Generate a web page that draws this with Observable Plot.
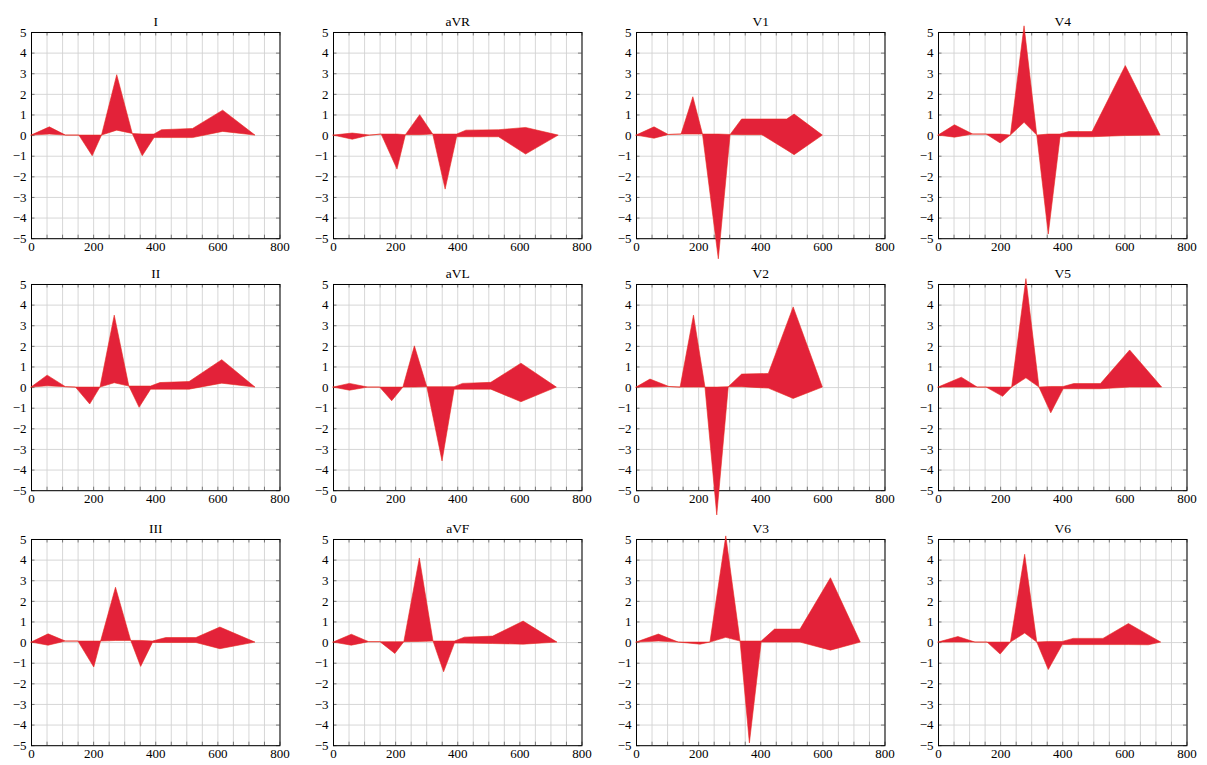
<!DOCTYPE html>
<html><head><meta charset="utf-8">
<script src="https://cdn.jsdelivr.net/npm/d3@7"></script>
<script src="https://cdn.jsdelivr.net/npm/@observablehq/plot@0.6"></script>
<style>
html,body{margin:0;padding:0;background:#fff;}
body{width:1207px;height:765px;position:relative;overflow:hidden;}
#chart{position:absolute;left:0;top:0;width:1207px;height:765px;}
#chart svg{position:absolute;overflow:visible;background:transparent !important;max-width:none !important;}
</style></head><body><div id="chart"></div>
<script>
// Lead names in grid order (row-major)
const leadNames = ["I", "aVR", "V1", "V4", "II", "aVL", "V2", "V5", "III", "aVF", "V3", "V6"];

// Per-lead x (ms), upper envelope, lower envelope
const xI   = [0, 59, 111, 154, 197, 227, 276, 326, 358, 396, 420, 520, 617, 721];
const hiI  = [0, 0.40, 0, 0, 0, 0, 2.93, 0.08, 0.05, 0.05, 0.26, 0.32, 1.21, 0];
const loI  = [0, 0.05, 0, 0, -1.00, 0, 0.24, 0.08, -1.00, -0.12, -0.12, -0.12, 0.18, 0];

const xaVR  = [0, 62, 118, 155, 206, 233, 279, 321, 361, 398, 428, 533, 620, 725];
const hiaVR = [0, 0.10, 0, 0.05, 0.05, 0.02, 0.99, 0.05, 0.05, 0.05, 0.24, 0.26, 0.37, 0];
const loaVR = [0, -0.20, 0, 0.05, -1.65, 0.02, 0.02, 0.05, -2.62, -0.08, -0.08, -0.08, -0.92, 0];

const xV1  = [0, 58, 104, 145, 183, 214, 265, 303, 340, 405, 485, 509, 600];
const hiV1 = [0, 0.40, 0.03, 0.05, 1.86, 0.05, 0.05, 0.03, 0.78, 0.78, 0.78, 1.02, 0];
const loV1 = [0, -0.15, 0.03, 0.05, 0.05, 0.05, -6.00, 0.03, 0.02, 0.02, -0.72, -0.95, 0];

const xV4  = [0, 53, 112, 155, 200, 233, 277, 318, 355, 393, 421, 496, 603, 715];
const hiV4 = [0, 0.50, 0.05, 0.05, 0.05, 0, 5.30, 0, 0.05, 0.05, 0.17, 0.17, 3.37, 0];
const loV4 = [0, -0.10, 0.05, 0.05, -0.38, 0, 0.62, 0, -4.80, -0.08, -0.08, -0.08, -0.02, 0];

const xII  = [0, 52, 111, 143, 189, 222, 268, 315, 348, 385, 415, 509, 614, 721];
const hiII = [0, 0.58, 0.02, 0, 0, 0, 3.49, 0.05, 0.05, 0.05, 0.22, 0.27, 1.33, 0];
const loII = [0, 0.06, 0.02, 0, -0.82, 0, 0.21, 0.05, -0.98, -0.10, -0.10, -0.10, 0.19, 0];

const xaVL  = [0, 53, 112, 150, 189, 225, 262, 302, 351, 390, 417, 508, 605, 719];
const hiaVL = [0, 0.18, 0, 0, 0, 0, 2.00, 0.02, 0.02, 0.02, 0.18, 0.23, 1.16, 0];
const loaVL = [0, -0.15, 0, 0, -0.66, 0, 0, 0.02, -3.58, -0.10, -0.10, -0.10, -0.71, 0];

const xV2  = [0, 45, 106, 142, 185, 222, 260, 297, 340, 426, 506, 600];
const hiV2 = [0, 0.39, 0.03, 0, 3.49, 0, 0, 0.02, 0.63, 0.66, 3.89, 0];
const loV2 = [0, 0, 0.03, 0, 0, 0, -6.20, 0.02, 0.02, -0.05, -0.55, 0];

const xV5  = [0, 75, 126, 155, 208, 237, 283, 325, 363, 403, 437, 523, 617, 720];
const hiV5 = [0, 0.48, 0, 0, 0, 0, 5.26, 0, 0.03, 0.03, 0.17, 0.17, 1.80, 0];
const loV5 = [0, 0, 0, 0, -0.45, 0, 0.45, 0, -1.25, -0.08, -0.08, -0.08, 0, 0];

const xIII  = [0, 55, 111, 151, 202, 224, 272, 321, 353, 391, 434, 531, 608, 721];
const hiIII = [0, 0.40, 0.05, 0.05, 0.05, 0.05, 2.66, 0.08, 0.08, 0.05, 0.22, 0.22, 0.73, 0];
const loIII = [0, -0.15, 0.05, 0.05, -1.21, 0.05, 0.08, 0.08, -1.18, -0.02, -0.02, -0.02, -0.32, 0];

const xaVF  = [0, 59, 115, 151, 199, 228, 278, 322, 356, 391, 423, 514, 612, 721];
const hiaVF = [0, 0.38, 0.02, 0.02, 0.02, 0.02, 4.08, 0.05, 0.05, 0.05, 0.24, 0.29, 1.02, 0];
const loaVF = [0, -0.15, 0.02, 0.02, -0.55, 0.02, 0.03, 0.05, -1.44, -0.05, -0.05, -0.07, -0.10, 0];

const xV3  = [0, 72, 136, 206, 238, 289, 335, 365, 403, 446, 528, 626, 722];
const hiV3 = [0, 0.39, 0, 0, 0, 5.15, 0.05, 0.05, 0.05, 0.63, 0.63, 3.12, 0];
const loV3 = [0, 0.05, 0, -0.10, 0, 0.23, 0.05, -4.89, 0, 0, 0, -0.39, 0];

const xV6  = [0, 64, 119, 158, 200, 233, 279, 318, 355, 400, 435, 531, 613, 677, 717];
const hiV6 = [0, 0.27, 0, 0, 0, 0, 4.26, 0, 0.03, 0.03, 0.18, 0.18, 0.90, 0.35, 0];
const loV6 = [0, 0, 0, 0, -0.58, 0, 0.44, 0, -1.33, -0.12, -0.12, -0.12, -0.12, -0.13, 0];

// Axis ticks / grid
const xTickLabels = [0, 200, 400, 600, 800];
const xGrid = d3.range(0, 801, 50);
const yTicks = [-5, -4, -3, -2, -1, 0, 1, 2, 3, 4, 5];

const series = {
  I: [xI, hiI, loI], aVR: [xaVR, hiaVR, loaVR], V1: [xV1, hiV1, loV1], V4: [xV4, hiV4, loV4],
  II: [xII, hiII, loII], aVL: [xaVL, hiaVL, loaVL], V2: [xV2, hiV2, loV2], V5: [xV5, hiV5, loV5],
  III: [xIII, hiIII, loIII], aVF: [xaVF, hiaVF, loaVF], V3: [xV3, hiV3, loV3], V6: [xV6, hiV6, loV6]
};

const ML = 32, MT = 32, MR = 14, MB = 24;
const PW = 248.5, PH = 206.2;
const colLeft = [31, 333.3, 636, 938.3];
const rowTop = [31.7, 284.3, 539];
const font = "Liberation Serif";
const chart = document.getElementById("chart");
const fmt = d => (d < 0 ? "\u2212" + Math.abs(d) : String(d));

leadNames.forEach((name, i) => {
  const r = Math.floor(i / 4), c = i % 4;
  const [xs, hi, lo] = series[name];
  const rows = xs.map((x, j) => ({t: x, hi: hi[j], lo: lo[j]}));
  const p = Plot.plot({
    width: ML + PW + MR, height: MT + PH + MB,
    marginLeft: ML, marginTop: MT, marginRight: MR, marginBottom: MB,
    x: {domain: [0, 800], label: null, axis: null},
    y: {domain: [-5, 5], label: null, axis: null},
    style: {fontFamily: font, background: "transparent", overflow: "visible", color: "#000"},
    marks: [
      Plot.ruleX(xGrid, {stroke: "#d2d2d2", strokeWidth: 0.9}),
      Plot.ruleY(yTicks, {stroke: "#d2d2d2", strokeWidth: 0.9}),
      Plot.ruleX(xGrid, {stroke: "#333", strokeWidth: 0.6, insetTop: PH - 3.5}),
      Plot.ruleX(xGrid, {stroke: "#333", strokeWidth: 0.6, insetBottom: PH - 3.5}),
      Plot.ruleY(yTicks, {stroke: "#333", strokeWidth: 0.6, insetRight: PW - 3.5}),
      Plot.ruleY(yTicks, {stroke: "#333", strokeWidth: 0.6, insetLeft: PW - 3.5}),
      Plot.frame({stroke: "#000", strokeWidth: 1}),
      Plot.areaY(rows, {x: "t", y1: "lo", y2: "hi", fill: "#e32239", stroke: "#e8281f", strokeWidth: 0.6}),
      Plot.text(xTickLabels, {x: d => d, frameAnchor: "bottom", lineAnchor: "top", dy: 3, text: fmt,
        fontSize: 13, fontFamily: font, fill: "#000"}),
      Plot.text(yTicks, {y: d => d, frameAnchor: "left", textAnchor: "end", dx: -5, text: fmt,
        fontSize: 13, fontFamily: font, fill: "#000"}),
      Plot.text([name], {frameAnchor: "top", dy: -16.5, fontSize: 13.5, fontFamily: font, fill: "#000"})
    ]
  });
  p.style.left = (colLeft[c] - ML) + "px";
  p.style.top = (rowTop[r] - MT) + "px";
  chart.append(p);
});
</script>
</body></html>
